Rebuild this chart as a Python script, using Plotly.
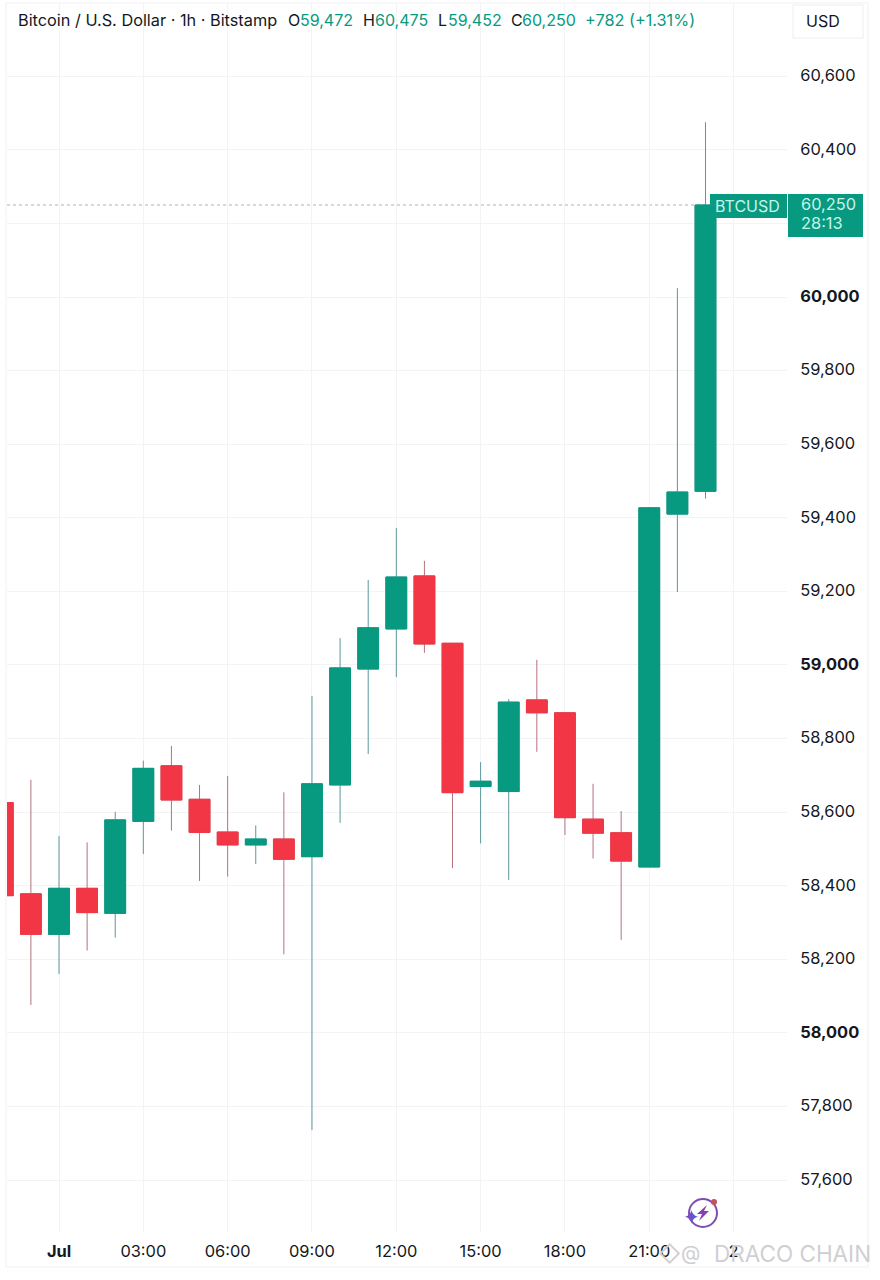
import plotly.graph_objects as go

# hourly candles
times = ['2024-06-30 22:00', '2024-06-30 23:00', '2024-07-01 00:00', '2024-07-01 01:00',
         '2024-07-01 02:00', '2024-07-01 03:00', '2024-07-01 04:00', '2024-07-01 05:00',
         '2024-07-01 06:00', '2024-07-01 07:00', '2024-07-01 08:00', '2024-07-01 09:00',
         '2024-07-01 10:00', '2024-07-01 11:00', '2024-07-01 12:00', '2024-07-01 13:00',
         '2024-07-01 14:00', '2024-07-01 15:00', '2024-07-01 16:00', '2024-07-01 17:00',
         '2024-07-01 18:00', '2024-07-01 19:00', '2024-07-01 20:00', '2024-07-01 21:00',
         '2024-07-01 22:00', '2024-07-01 23:00']
opens = [58626, 58378, 58268, 58393, 58325, 58575, 58726, 58635, 58546, 58511, 58527, 58479, 58674,
         58989, 59098, 59242, 59059, 58670, 58656, 58905, 58870, 58581, 58544, 58451, 59410, 59472]
highs = [58626, 58688, 58535, 58518, 58601, 58740, 58780, 58674, 58698, 58564, 58654, 58916, 59073,
         59231, 59372, 59283, 59059, 58736, 58907, 59014, 58872, 58677, 58603, 59427, 60024, 60475]
lows = [58373, 58076, 58160, 58224, 58259, 58486, 58550, 58413, 58425, 58459, 58214, 57736, 58571,
        58758, 58967, 59033, 58448, 58515, 58416, 58764, 58538, 58474, 58253, 58451, 59198, 59452]
closes = [58373, 58268, 58393, 58327, 58579, 58719, 58633, 58545, 58511, 58527, 58472, 58677, 58992,
          59101, 59239, 59057, 58653, 58684, 58899, 58870, 58585, 58543, 58467, 59427, 59470, 60250]

y_ticks = [57600, 57800, 58000, 58200, 58400, 58600, 58800, 59000, 59200, 59400, 59600, 59800, 60000,
           60200, 60400, 60600]
y_labels = ['57,600', '57,800', '<b>58,000</b>', '58,200', '58,400', '58,600', '58,800', '<b>59,000</b>',
            '59,200', '59,400', '59,600', '59,800', '<b>60,000</b>', '', '60,400', '60,600']
x_ticks = ['2024-07-01 00:00', '2024-07-01 03:00', '2024-07-01 06:00', '2024-07-01 09:00',
           '2024-07-01 12:00', '2024-07-01 15:00', '2024-07-01 18:00', '2024-07-01 21:00',
           '2024-07-02 00:00']
x_labels = ['<b>Jul</b>', '03:00', '06:00', '09:00', '12:00', '15:00', '18:00', '21:00', '2']

GREEN = '#089981'
RED = '#f23645'
GREEN_WICK = '#5b979c'
RED_WICK = '#b5727e'
FONT = 'Inter'

# plot area in page pixels
LEFT, RIGHT, TOP, BOTTOM = 7, 787, 3, 1232


def px(x):
    return (x - LEFT) / (RIGHT - LEFT)


def py(y):
    return (BOTTOM - y) / (BOTTOM - TOP)


def box(x0, y0, x1, y1, **kw):
    return dict(type='rect', xref='paper', yref='paper', x0=px(x0), x1=px(x1), y0=py(y0), y1=py(y1), **kw)


def label(x, y, text, color='#131722', size=16, anchor='left'):
    return dict(xref='paper', yref='paper', x=px(x), y=py(y), text=text, showarrow=False,
                xanchor=anchor, yanchor='middle', align='left', borderpad=0,
                font=dict(family=FONT, size=size, color=color))


# wicks are a duller colour than the bodies, so draw them as their own trace
wicks = go.Candlestick(x=times, open=opens, high=highs, low=lows, close=closes,
                       whiskerwidth=0,
                       increasing=dict(line=dict(color=GREEN_WICK, width=1), fillcolor=GREEN),
                       decreasing=dict(line=dict(color=RED_WICK, width=1), fillcolor=RED),
                       showlegend=False, hoverinfo='skip')

bodies = go.Candlestick(x=times, open=opens, close=closes,
                        high=[max(o, c) for o, c in zip(opens, closes)],
                        low=[min(o, c) for o, c in zip(opens, closes)],
                        whiskerwidth=0,
                        increasing=dict(line=dict(color=GREEN, width=1), fillcolor=GREEN),
                        decreasing=dict(line=dict(color=RED, width=1), fillcolor=RED),
                        showlegend=False, hoverinfo='skip')

shapes = [
    # outer frame of the widget
    box(6, 3, 868, 1267, line=dict(color='#f1f1f4', width=1), layer='below'),
    # USD button
    box(793, 5, 863, 38, line=dict(color='#eeeef1', width=1), layer='below'),
    # last price line and labels
    dict(type='line', xref='paper', yref='y', x0=0, x1=px(710), y0=closes[-1], y1=closes[-1],
         line=dict(color='#a9b3b6', width=1, dash='dot'), layer='between'),
    # the label tucks under the last candle, the rest has to cover the grid
    box(710, 194, 718, 218, fillcolor=GREEN, line=dict(width=0), layer='between'),
    box(717, 194, 787, 218, fillcolor=GREEN, line=dict(width=0), layer='above'),
    box(788, 194, 863, 237, fillcolor=GREEN, line=dict(width=0), layer='above'),
    # logo near the bottom
    dict(type='circle', xref='paper', yref='paper', x0=px(689), x1=px(717), y0=py(1199), y1=py(1227),
         line=dict(color='#7d4cb5', width=2)),
    dict(type='circle', xref='paper', yref='paper', x0=px(711), x1=px(717), y0=py(1199), y1=py(1205),
         fillcolor='#c2525f', line=dict(width=0)),
    dict(type='path', xref='paper', yref='paper',
         path='M %f,%f L %f,%f L %f,%f L %f,%f L %f,%f L %f,%f Z' % (
             px(707), py(1205), px(697), py(1214), px(702), py(1214),
             px(699), py(1221), px(709), py(1211), px(704), py(1211)),
         fillcolor='#8a3fb0', line=dict(width=0)),
]

annotations = [
    label(17, 20, 'Bitcoin / U.S. Dollar · 1h · Bitstamp', size=16.3),
    label(287, 20, 'O'), label(299, 20, '59,472', GREEN),
    label(362, 20, 'H'), label(374, 20, '60,475', GREEN),
    label(437, 20, 'L'), label(447, 20, '59,452', GREEN),
    label(510, 20, 'C'), label(521, 20, '60,250', GREEN),
    label(584, 20, '+782 (+1.31%)', GREEN, 16.3),
    label(805, 21, 'USD'),
    label(714, 206, 'BTCUSD', '#c4f5e8'),
    label(800, 204, '60,250', '#c4f5e8', 16.4),
    label(800, 223, '28:13', '#c4f5e8', 16.4),
    label(682, 1217, '✦', '#6a4fd0', 20),
    # watermark
    label(657, 1254, '◇', '#cfcfd2', 22),
    label(680, 1253, '@', '#cfcfd2', 20),
    label(713, 1253, 'DRACO CHAIN', '#cfcfd2', 22.5),
]

layout = go.Layout(
    width=880, height=1280,
    margin=dict(l=LEFT, r=880 - RIGHT, t=TOP, b=1280 - BOTTOM),
    paper_bgcolor='white', plot_bgcolor='white',
    font=dict(family=FONT, color='#131722'),
    boxgap=0.26, boxgroupgap=0,
    xaxis=dict(type='date', range=['2024-06-30 22:09', '2024-07-02 01:54'],
               rangeslider=dict(visible=False),
               tickvals=x_ticks, ticktext=x_labels, tickangle=0,
               ticks='outside', ticklen=4, tickcolor='rgba(0,0,0,0)',
               tickfont=dict(family=FONT, size=16.4, color='#131722'),
               showgrid=True, gridcolor='#f3f3f6', gridwidth=1,
               zeroline=False, showline=False),
    yaxis=dict(side='right', range=[57459, 60799],
               tickvals=y_ticks, ticktext=y_labels,
               ticks='outside', ticklen=9, tickcolor='rgba(0,0,0,0)',
               tickfont=dict(family=FONT, size=16.4, color='#131722'),
               ticklabelshift=-1,
               showgrid=True, gridcolor='#f3f3f6', gridwidth=1,
               zeroline=False, showline=False),
    shapes=shapes,
    annotations=annotations,
)

fig = go.Figure(data=[wicks, bodies], layout=layout)

fig.write_html("out.html", config={'displayModeBar': False},
               post_script="document.body.style.margin='0';")
